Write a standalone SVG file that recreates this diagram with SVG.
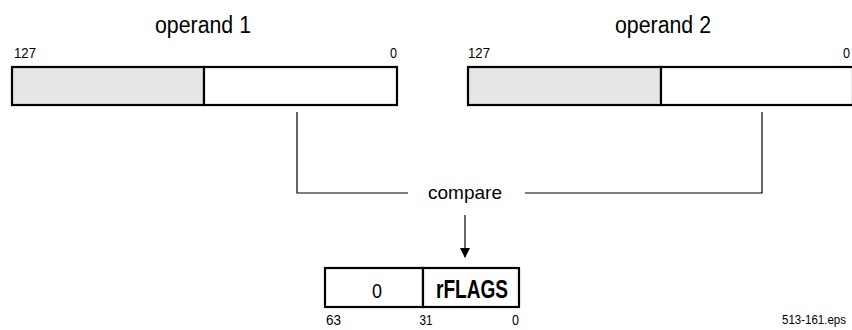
<svg xmlns="http://www.w3.org/2000/svg" width="852" height="330" viewBox="0 0 852 330">
<style>
.box{stroke:#000;stroke-width:2.2;fill:#fff}
.grey{fill:#e6e6e6}
.title{font-family:"Liberation Sans",Arial,sans-serif;font-size:23px;fill:#000;text-anchor:middle}
.num{font-family:"Liberation Sans",Arial,sans-serif;font-size:15px;fill:#000}
.lbl{font-family:"Liberation Sans",Arial,sans-serif;font-size:19px;fill:#000;text-anchor:middle}
.conn{stroke:#000;stroke-width:1.2;fill:none}
</style>
<defs>
<marker id="arr" markerWidth="10" markerHeight="12" refX="9" refY="5" orient="auto" markerUnits="userSpaceOnUse">
<path d="M0,0 L10,5 L0,10 Z" fill="#000"/>
</marker>
</defs>
<g id="operand1">
<text class="title" x="203" y="33" textLength="96" lengthAdjust="spacingAndGlyphs">operand 1</text>
<text class="num" x="14" y="58" textLength="22" lengthAdjust="spacingAndGlyphs">127</text>
<text class="num" x="397" y="58" text-anchor="end" textLength="7" lengthAdjust="spacingAndGlyphs">0</text>
<rect class="box grey" x="12" y="67" width="192" height="38"/>
<rect class="box" x="204" y="67" width="193" height="38"/>
</g>
<g id="operand2">
<text class="title" x="663" y="33" textLength="96" lengthAdjust="spacingAndGlyphs">operand 2</text>
<text class="num" x="468" y="58" textLength="22" lengthAdjust="spacingAndGlyphs">127</text>
<text class="num" x="850" y="58" text-anchor="end" textLength="7" lengthAdjust="spacingAndGlyphs">0</text>
<rect class="box grey" x="468" y="67" width="193" height="38"/>
<rect class="box" x="661" y="67" width="192" height="38"/>
</g>
<g id="compare">
<text class="lbl" x="465" y="199" textLength="74" lengthAdjust="spacingAndGlyphs">compare</text>
</g>
<g id="rflags">
<rect class="box" x="325" y="268" width="98" height="39"/>
<rect class="box" x="423" y="268" width="96" height="39"/>
<text x="377" y="298" font-family="Liberation Sans,Arial,sans-serif" font-size="21" text-anchor="middle" textLength="10" lengthAdjust="spacingAndGlyphs">0</text>
<text x="472" y="298" font-family="Liberation Sans,Arial,sans-serif" font-size="25" font-weight="bold" text-anchor="middle" textLength="72" lengthAdjust="spacingAndGlyphs">rFLAGS</text>
<text class="num" x="326" y="325" font-size="14" textLength="15" lengthAdjust="spacingAndGlyphs">63</text>
<text class="num" x="426" y="325" font-size="14" text-anchor="middle" textLength="13" lengthAdjust="spacingAndGlyphs">31</text>
<text class="num" x="519" y="325" font-size="14" text-anchor="end" textLength="7" lengthAdjust="spacingAndGlyphs">0</text>
</g>
<g id="connectors">
<polyline class="conn" points="297,112 297,193 408,193"/>
<polyline class="conn" points="525,193 762,193 762,112"/>
<line class="conn" x1="465" y1="215" x2="465" y2="257" marker-end="url(#arr)"/>
</g>
<text x="846" y="324" font-family="Liberation Sans,Arial,sans-serif" font-size="12" text-anchor="end" textLength="64" lengthAdjust="spacingAndGlyphs">513-161.eps</text>
</svg>
